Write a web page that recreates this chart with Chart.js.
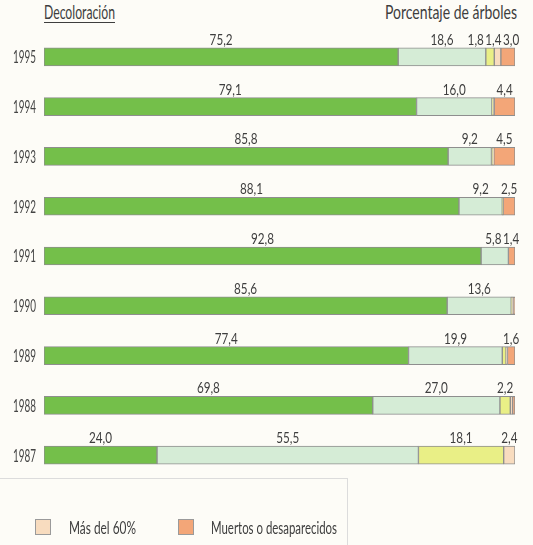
<!DOCTYPE html>
<html><head><meta charset="utf-8">
<script src="https://cdn.jsdelivr.net/npm/chart.js@4"></script>
<style>
html,body{margin:0;padding:0;background:#fdfcf7;width:533px;height:545px;overflow:hidden;font-family:Lato,"DejaVu Sans",sans-serif;color:#3e3e3e}
#wrap{position:absolute;left:0;top:0;width:533px;height:480px}
.fit{position:absolute;white-space:nowrap;display:inline-block}
#h1{left:44px;top:0px;font-size:19px;line-height:normal;transform-origin:0 0;text-decoration:underline;text-underline-offset:3px;text-decoration-thickness:1px}
#h2{left:385px;top:0px;font-size:19px;line-height:normal;transform-origin:0 0}
#legend{position:absolute;left:-2px;top:478px;width:350px;height:90px;border:1px solid #dcdcdc;box-sizing:border-box}
.sw{position:absolute;top:40px;width:16px;height:16px;border:1px solid #9a9a9a;box-sizing:border-box}
.lt{top:37px;font-size:18px;line-height:normal;transform-origin:0 0}
</style></head>
<body>
<div class="fit" id="h1" data-w="71">Decoloración</div>
<div class="fit" id="h2" data-w="132">Porcentaje de árboles</div>
<div id="wrap"><canvas id="c" width="533" height="480"></canvas></div>
<div id="legend"></div>
<script>
const years = ['1995','1994','1993','1992','1991','1990','1989','1988','1987'];
const seriesNames = ['0–10%','11–25%','26–60%','Más del 60%','Muertos o desaparecidos'];
const sinDanos = [75.2,79.1,85.8,88.1,92.8,85.6,77.4,69.8,24.0];
const ligero = [18.6,16.0,9.2,9.2,5.8,13.6,19.9,27.0,55.5];
const moderado = [1.8,0.3,0.3,0.1,0,0.2,0.8,2.2,18.1];
const masDel60 = [1.4,0.2,0.2,0.1,0,0.2,0.3,0.5,2.4];
const muertos = [3.0,4.4,4.5,2.5,1.4,0.4,1.6,0.5,0];
const legendShown = ['Más del 60%','Muertos o desaparecidos'];

const colors = ['#74bf4a','#d5ecd6','#e9ef86','#f8dcbf','#f3a678'];
const seriesData = [sinDanos, ligero, moderado, masDel60, muertos];
const FONT = 'Lato,"DejaVu Sans",sans-serif';
const fmt = v => v.toFixed(1).replace('.', ',');

// narrow text helper (reference uses a condensed typeface)
function narrowText(ctx, txt, x, y, sx) {
  ctx.save();
  ctx.translate(x, y);
  ctx.scale(sx, 1);
  ctx.fillText(txt, 0, 0);
  ctx.restore();
}

const labelPlugin = {
  id: 'vlabels',
  afterDatasetsDraw(chart) {
    const ctx = chart.ctx;
    ctx.save();
    ctx.font = '15px ' + FONT;
    ctx.fillStyle = '#3e3e3e';
    ctx.textAlign = 'center';
    ctx.textBaseline = 'alphabetic';
    const sx = 23 / ctx.measureText('75,2').width;
    const limit = chart.chartArea.right + 5;
    years.forEach((y, i) => {
      const items = [];
      chart.data.datasets.forEach((ds, d) => {
        const v = ds.data[i];
        if (v < 1) return;
        const el = chart.getDatasetMeta(d).data[i];
        const txt = fmt(v);
        const w = ctx.measureText(txt).width * sx + 1.5;
        items.push({ txt, w, cx: (el.x + el.base) / 2, y: el.y - el.height / 2 - 3 });
      });
      for (let k = 1; k < items.length; k++) {
        const p = items[k - 1], c = items[k];
        const minC = p.cx + p.w / 2 + c.w / 2;
        if (c.cx < minC) c.cx = minC;
      }
      for (let k = items.length - 1; k >= 0; k--) {
        const c = items[k];
        const maxR = k === items.length - 1 ? limit : items[k + 1].cx - items[k + 1].w / 2;
        if (c.cx + c.w / 2 > maxR) c.cx = maxR - c.w / 2;
      }
      items.forEach(it => narrowText(ctx, it.txt, it.cx, it.y, sx));
    });
    ctx.restore();
  }
};

const yearPlugin = {
  id: 'yearLabels',
  afterDraw(chart) {
    const ctx = chart.ctx, sc = chart.scales.y;
    ctx.save();
    ctx.font = '17px ' + FONT;
    ctx.fillStyle = '#444';
    ctx.textAlign = 'right';
    ctx.textBaseline = 'middle';
    const sx = 23 / ctx.measureText('1995').width;
    sc.ticks.forEach((t, i) => {
      narrowText(ctx, sc.getLabelForValue(t.value), 36, sc.getPixelForTick(i) + 1, sx);
    });
    ctx.restore();
  }
};

new Chart(document.getElementById('c'), {
  type: 'bar',
  data: {
    labels: years,
    datasets: seriesNames.map((n, k) => ({
      label: n,
      data: seriesData[k],
      backgroundColor: colors[k],
      borderColor: '#8e8e8e',
      borderWidth: 1,
      borderSkipped: false,
      barThickness: 18
    }))
  },
  options: {
    indexAxis: 'y',
    responsive: false,
    animation: false,
    devicePixelRatio: 1,
    layout: { padding: { top: 32, right: 18, bottom: 0, left: 0 } },
    plugins: { legend: { display: false }, tooltip: { enabled: false } },
    scales: {
      x: { stacked: true, min: 0, max: 100, display: false },
      y: {
        stacked: true,
        grid: { display: false, drawTicks: false },
        border: { display: false },
        ticks: { display: false },
        afterFit(s) { s.width = 44; }
      }
    }
  },
  plugins: [labelPlugin, yearPlugin]
});

const lg = document.getElementById('legend');
const swLefts = [36, 179], txtLefts = [70, 212], txtW = [67, 126];
legendShown.forEach((name, j) => {
  const k = seriesNames.indexOf(name);
  const s = document.createElement('div');
  s.className = 'sw';
  s.style.left = swLefts[j] + 'px';
  s.style.background = colors[k];
  lg.appendChild(s);
  const t = document.createElement('div');
  t.className = 'fit lt';
  t.style.left = txtLefts[j] + 'px';
  t.dataset.w = txtW[j];
  t.textContent = name;
  lg.appendChild(t);
});
document.querySelectorAll('.fit').forEach(el => {
  const w = el.getBoundingClientRect().width;
  el.style.transform = 'scaleX(' + (el.dataset.w / w) + ')';
});
</script>
</body></html>
